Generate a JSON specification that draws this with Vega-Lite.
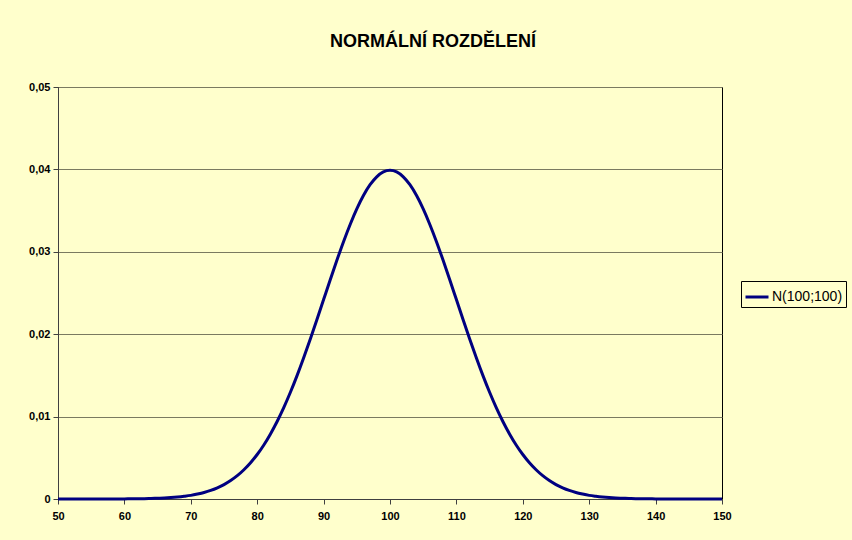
{
  "$schema": "https://vega.github.io/schema/vega-lite/v6.json",
  "autosize": {"type": "none"},
  "width": 664,
  "height": 412,
  "padding": {"left": 58, "top": 87, "right": 130, "bottom": 41},
  "background": "#FFFFCC",
  "title": {
    "text": "NORMÁLNÍ ROZDĚLENÍ",
    "font": "Liberation Sans",
    "fontSize": 18,
    "fontWeight": "bold",
    "color": "#000000",
    "anchor": "middle",
    "offset": 30,
    "dx": 43
  },
  "config": {
    "view": {"stroke": "#000000", "strokeWidth": 1, "fill": "#FFFFCC"},
    "axis": {
      "labelFont": "Liberation Sans",
      "labelFontSize": 11,
      "labelFontWeight": "bold",
      "labelColor": "#000000",
      "domainColor": "#404040",
      "tickColor": "#404040",
      "tickSize": 5,
      "title": null
    }
  },
  "data": {
    "values": [
      {"x": 50, "y": 0.0000001, "s": "N(100;100)"},
      {"x": 52, "y": 0.0000004, "s": "N(100;100)"},
      {"x": 54, "y": 0.0000010, "s": "N(100;100)"},
      {"x": 56, "y": 0.0000025, "s": "N(100;100)"},
      {"x": 58, "y": 0.0000060, "s": "N(100;100)"},
      {"x": 60, "y": 0.000013, "s": "N(100;100)"},
      {"x": 61, "y": 0.00002, "s": "N(100;100)"},
      {"x": 62, "y": 0.00003, "s": "N(100;100)"},
      {"x": 63, "y": 0.00004, "s": "N(100;100)"},
      {"x": 64, "y": 0.00006, "s": "N(100;100)"},
      {"x": 65, "y": 0.00009, "s": "N(100;100)"},
      {"x": 66, "y": 0.00012, "s": "N(100;100)"},
      {"x": 67, "y": 0.00017, "s": "N(100;100)"},
      {"x": 68, "y": 0.00024, "s": "N(100;100)"},
      {"x": 69, "y": 0.00033, "s": "N(100;100)"},
      {"x": 70, "y": 0.00044, "s": "N(100;100)"},
      {"x": 71, "y": 0.00060, "s": "N(100;100)"},
      {"x": 72, "y": 0.00079, "s": "N(100;100)"},
      {"x": 73, "y": 0.00104, "s": "N(100;100)"},
      {"x": 74, "y": 0.00136, "s": "N(100;100)"},
      {"x": 75, "y": 0.00175, "s": "N(100;100)"},
      {"x": 76, "y": 0.00224, "s": "N(100;100)"},
      {"x": 77, "y": 0.00283, "s": "N(100;100)"},
      {"x": 78, "y": 0.00355, "s": "N(100;100)"},
      {"x": 79, "y": 0.00440, "s": "N(100;100)"},
      {"x": 80, "y": 0.00540, "s": "N(100;100)"},
      {"x": 81, "y": 0.00656, "s": "N(100;100)"},
      {"x": 82, "y": 0.00790, "s": "N(100;100)"},
      {"x": 83, "y": 0.00941, "s": "N(100;100)"},
      {"x": 84, "y": 0.01109, "s": "N(100;100)"},
      {"x": 85, "y": 0.01295, "s": "N(100;100)"},
      {"x": 86, "y": 0.01497, "s": "N(100;100)"},
      {"x": 87, "y": 0.01714, "s": "N(100;100)"},
      {"x": 88, "y": 0.01942, "s": "N(100;100)"},
      {"x": 89, "y": 0.02179, "s": "N(100;100)"},
      {"x": 90, "y": 0.02420, "s": "N(100;100)"},
      {"x": 91, "y": 0.02661, "s": "N(100;100)"},
      {"x": 92, "y": 0.02897, "s": "N(100;100)"},
      {"x": 93, "y": 0.03123, "s": "N(100;100)"},
      {"x": 94, "y": 0.03332, "s": "N(100;100)"},
      {"x": 95, "y": 0.03521, "s": "N(100;100)"},
      {"x": 96, "y": 0.03683, "s": "N(100;100)"},
      {"x": 97, "y": 0.03814, "s": "N(100;100)"},
      {"x": 98, "y": 0.03910, "s": "N(100;100)"},
      {"x": 99, "y": 0.03970, "s": "N(100;100)"},
      {"x": 100, "y": 0.03989, "s": "N(100;100)"},
      {"x": 101, "y": 0.03970, "s": "N(100;100)"},
      {"x": 102, "y": 0.03910, "s": "N(100;100)"},
      {"x": 103, "y": 0.03814, "s": "N(100;100)"},
      {"x": 104, "y": 0.03683, "s": "N(100;100)"},
      {"x": 105, "y": 0.03521, "s": "N(100;100)"},
      {"x": 106, "y": 0.03332, "s": "N(100;100)"},
      {"x": 107, "y": 0.03123, "s": "N(100;100)"},
      {"x": 108, "y": 0.02897, "s": "N(100;100)"},
      {"x": 109, "y": 0.02661, "s": "N(100;100)"},
      {"x": 110, "y": 0.02420, "s": "N(100;100)"},
      {"x": 111, "y": 0.02179, "s": "N(100;100)"},
      {"x": 112, "y": 0.01942, "s": "N(100;100)"},
      {"x": 113, "y": 0.01714, "s": "N(100;100)"},
      {"x": 114, "y": 0.01497, "s": "N(100;100)"},
      {"x": 115, "y": 0.01295, "s": "N(100;100)"},
      {"x": 116, "y": 0.01109, "s": "N(100;100)"},
      {"x": 117, "y": 0.00941, "s": "N(100;100)"},
      {"x": 118, "y": 0.00790, "s": "N(100;100)"},
      {"x": 119, "y": 0.00656, "s": "N(100;100)"},
      {"x": 120, "y": 0.00540, "s": "N(100;100)"},
      {"x": 121, "y": 0.00440, "s": "N(100;100)"},
      {"x": 122, "y": 0.00355, "s": "N(100;100)"},
      {"x": 123, "y": 0.00283, "s": "N(100;100)"},
      {"x": 124, "y": 0.00224, "s": "N(100;100)"},
      {"x": 125, "y": 0.00175, "s": "N(100;100)"},
      {"x": 126, "y": 0.00136, "s": "N(100;100)"},
      {"x": 127, "y": 0.00104, "s": "N(100;100)"},
      {"x": 128, "y": 0.00079, "s": "N(100;100)"},
      {"x": 129, "y": 0.00060, "s": "N(100;100)"},
      {"x": 130, "y": 0.00044, "s": "N(100;100)"},
      {"x": 131, "y": 0.00033, "s": "N(100;100)"},
      {"x": 132, "y": 0.00024, "s": "N(100;100)"},
      {"x": 133, "y": 0.00017, "s": "N(100;100)"},
      {"x": 134, "y": 0.00012, "s": "N(100;100)"},
      {"x": 135, "y": 0.00009, "s": "N(100;100)"},
      {"x": 136, "y": 0.00006, "s": "N(100;100)"},
      {"x": 137, "y": 0.00004, "s": "N(100;100)"},
      {"x": 138, "y": 0.00003, "s": "N(100;100)"},
      {"x": 139, "y": 0.00002, "s": "N(100;100)"},
      {"x": 140, "y": 0.000013, "s": "N(100;100)"},
      {"x": 142, "y": 0.0000060, "s": "N(100;100)"},
      {"x": 144, "y": 0.0000025, "s": "N(100;100)"},
      {"x": 146, "y": 0.0000010, "s": "N(100;100)"},
      {"x": 148, "y": 0.0000004, "s": "N(100;100)"},
      {"x": 150, "y": 0.0000001, "s": "N(100;100)"}
    ]
  },
  "mark": {"type": "line", "strokeWidth": 3, "interpolate": "monotone"},
  "encoding": {
    "x": {
      "field": "x",
      "type": "quantitative",
      "scale": {"domain": [50, 150], "nice": false, "zero": false},
      "axis": {"values": [50, 60, 70, 80, 90, 100, 110, 120, 130, 140, 150], "grid": false, "labelPadding": 6, "labelFlush": false}
    },
    "y": {
      "field": "y",
      "type": "quantitative",
      "scale": {"domain": [0, 0.05], "nice": false},
      "axis": {
        "values": [0, 0.01, 0.02, 0.03, 0.04, 0.05],
        "labelExpr": "replace(format(datum.value, '.2~f'), '.', ',')",
        "grid": true,
        "gridColor": "#7a7a60",
        "gridWidth": 1,
        "labelPadding": 3,
        "labelFlush": false
      }
    },
    "color": {
      "field": "s",
      "type": "nominal",
      "scale": {"range": ["#000080"]},
      "legend": {
        "title": null,
        "orient": "none",
        "legendX": 683,
        "legendY": 194,
        "symbolType": "stroke",
        "symbolSize": 529,
        "symbolStrokeWidth": 3,
        "labelFont": "Liberation Sans",
        "labelFontSize": 14,
        "labelColor": "#000000",
        "labelOffset": 2,
        "strokeColor": "#000000",
        "fillColor": "#FFFFCC",
        "padding": 3
      }
    }
  }
}
